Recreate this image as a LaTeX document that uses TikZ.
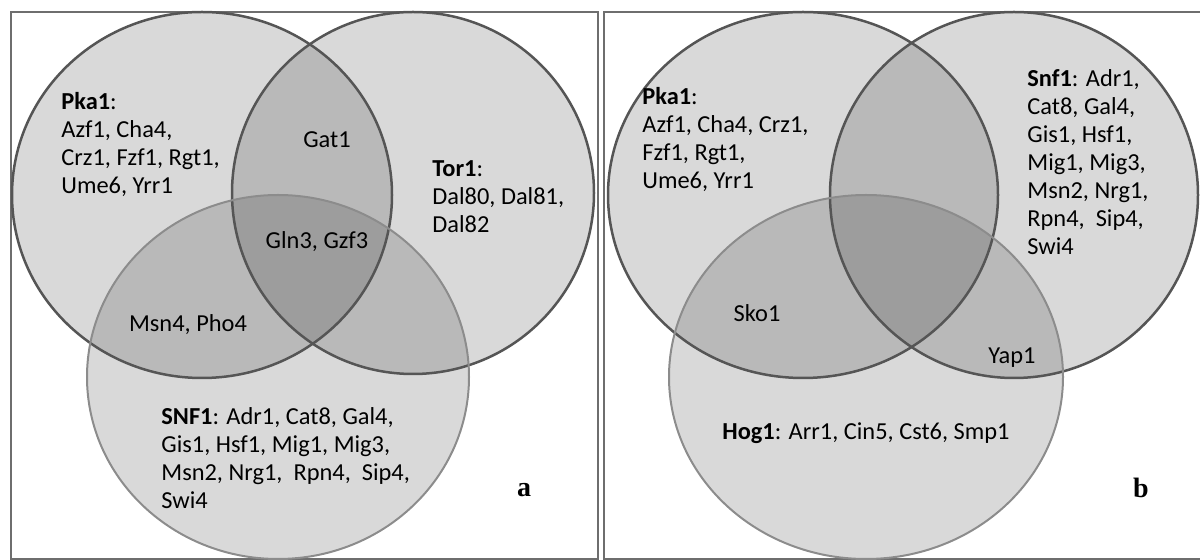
\documentclass[tikz,border=0pt]{standalone}
\usepackage{fontspec}
\setmainfont{Carlito}
\newfontfamily\panelfont{Liberation Serif}
\usepackage{tikz}

\begin{document}
\begin{tikzpicture}[x=0.5pt,y=0.5pt,yscale=-1,xscale=1,
  gene/.style={font=\fontsize{12.2}{14}\selectfont, inner sep=0pt, align=left},
  frame/.style={draw={rgb,255:red,110;green,110;blue,110}, line width=1.25pt},
  setfill/.style={fill=black, fill opacity=0.15},
  darkset/.style={draw={rgb,255:red,85;green,85;blue,85}, line width=1.25pt},
  lightset/.style={draw={rgb,255:red,140;green,140;blue,140}, line width=1pt},
  tag/.style={font=\panelfont\bfseries\fontsize{14}{16}\selectfont, inner sep=0pt}]
\useasboundingbox (0,0) rectangle (1200,560);

%Shape: Rectangle (panel a)
\draw [frame] (11,12) rectangle (598,559) ;
%Shape: Rectangle (panel b)
\draw [frame] (604,12) rectangle (1204,559) ;

%Shape: Ellipse (Pka1, a)
\fill [setfill] (202,195) ellipse [x radius=190, y radius=183] ;
%Shape: Ellipse (Tor1, a)
\fill [setfill] (413,193) ellipse [x radius=181, y radius=181] ;
%Shape: Ellipse (SNF1, a)
\fill [setfill] (278,377) ellipse [x radius=191, y radius=182] ;
\draw [darkset] (202,195) ellipse [x radius=190, y radius=183] ;
\draw [darkset] (413,193) ellipse [x radius=181, y radius=181] ;
\draw [lightset] (278,377) ellipse [x radius=191, y radius=182] ;

%Shape: Ellipse (Pka1, b)
\fill [setfill] (803,195) ellipse [x radius=195, y radius=183] ;
%Shape: Ellipse (Snf1, b)
\fill [setfill] (1014,195) ellipse [x radius=184, y radius=183] ;
%Shape: Ellipse (Hog1, b)
\fill [setfill] (866,377) ellipse [x radius=197, y radius=182] ;
\draw [darkset] (803,195) ellipse [x radius=195, y radius=183] ;
\draw [darkset] (1014,195) ellipse [x radius=184, y radius=183] ;
\draw [lightset] (866,377) ellipse [x radius=197, y radius=182] ;

% Text Node
\node [gene, anchor=north west] (pkaA) at (61,92) {\textbf{Pka1}:\\Azf1, Cha4,\\Crz1, Fzf1, Rgt1,\\Ume6, Yrr1};
% Text Node
\node [gene, anchor=north west] (torA) at (432,160) {\textbf{Tor1}:\\Dal80, Dal81,\\Dal82};
% Text Node
\node [gene] (gatA) at (327,140) {Gat1};
% Text Node
\node [gene] (glnA) at (317,242) {Gln3, Gzf3};
% Text Node
\node [gene] (msnA) at (188,325) {Msn4, Pho4};
% Text Node
\node [gene, anchor=north west] (snfA) at (161,407) {\textbf{SNF1}: Adr1, Cat8, Gal4,\\Gis1, Hsf1, Mig1, Mig3,\\Msn2, Nrg1,\ \ Rpn4,\ \ Sip4,\\Swi4};
% Text Node
\node [tag] (labA) at (524,490) {a};

% Text Node
\node [gene, anchor=north west] (pkaB) at (642,87) {\textbf{Pka1}:\\Azf1, Cha4, Crz1,\\Fzf1, Rgt1,\\Ume6, Yrr1};
% Text Node
\node [gene, anchor=north west] (snfB) at (1027,69) {\textbf{Snf1}: Adr1,\\Cat8, Gal4,\\Gis1, Hsf1,\\Mig1, Mig3,\\Msn2, Nrg1,\\Rpn4,\ \ Sip4,\\Swi4};
% Text Node
\node [gene] (skoB) at (757,313) {Sko1};
% Text Node
\node [gene] (yapB) at (1012,358) {Yap1};
% Text Node
\node [gene, anchor=west] (hogB) at (722,433) {\textbf{Hog1}: Arr1, Cin5, Cst6, Smp1};
% Text Node
\node [tag] (labB) at (1141,488) {b};

\end{tikzpicture}
\end{document}
